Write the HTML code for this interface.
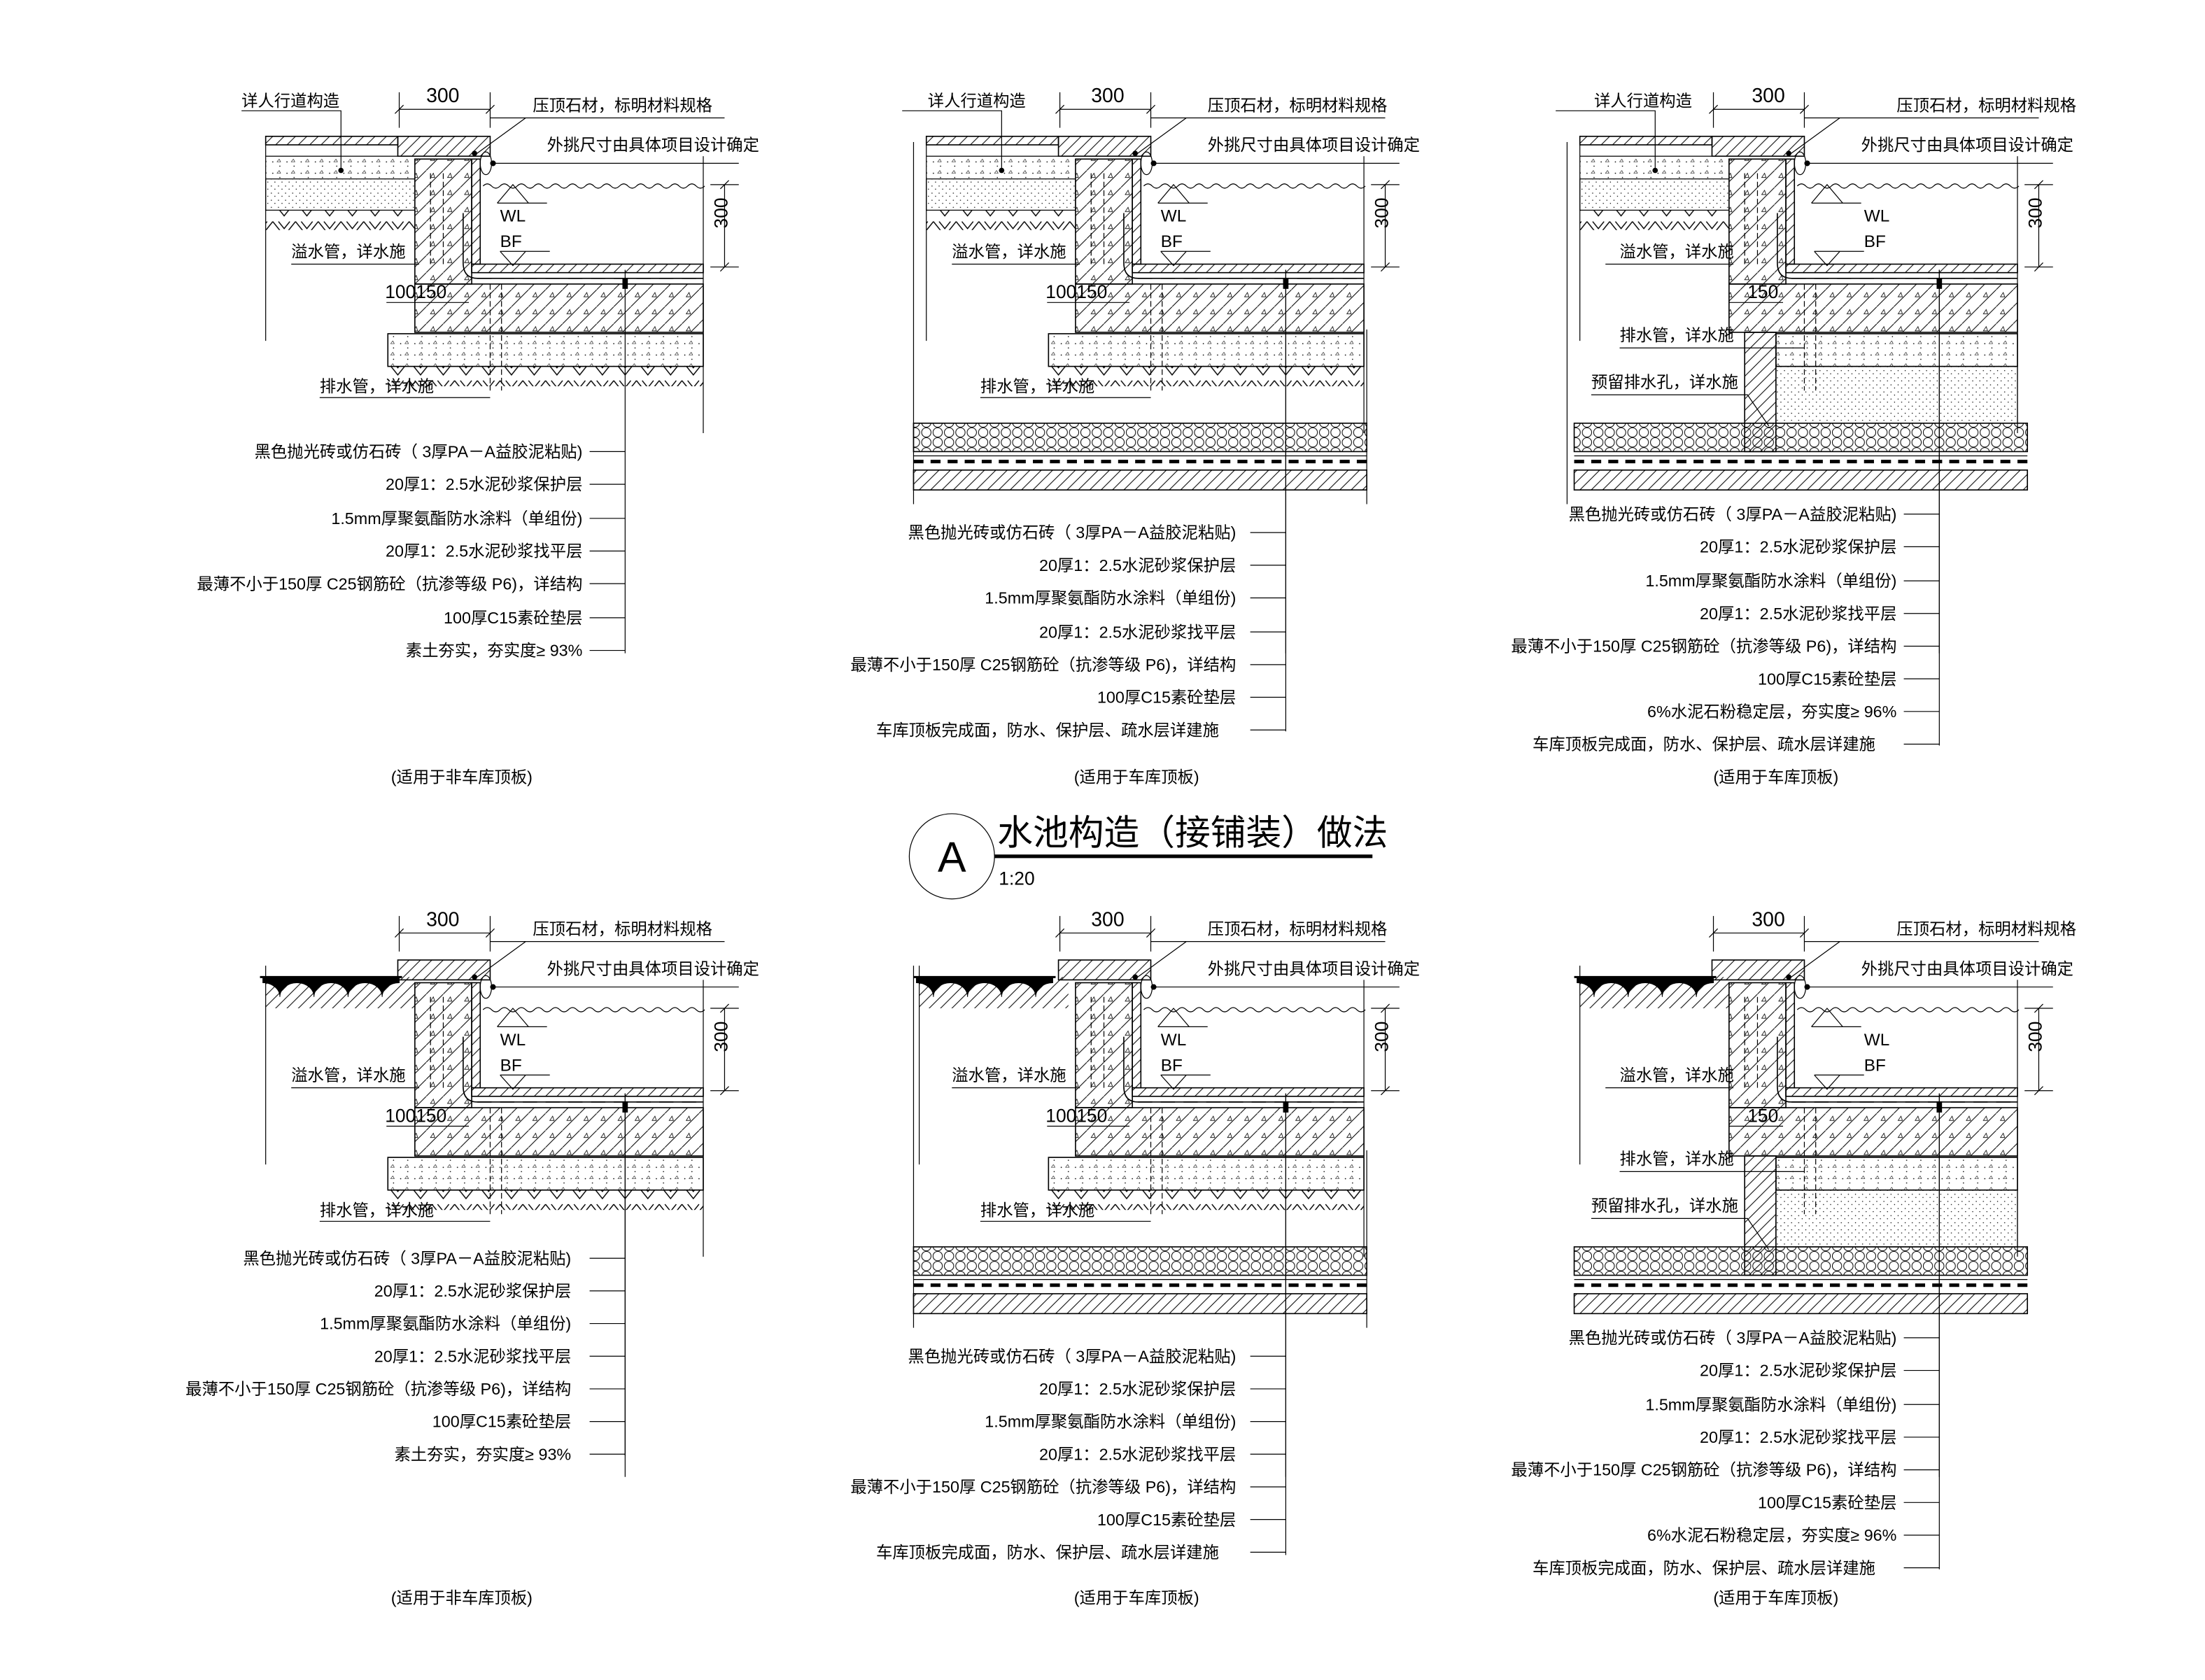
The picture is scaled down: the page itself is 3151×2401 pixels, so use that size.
<!DOCTYPE html>
<html><head><meta charset="utf-8"><style>
html,body{margin:0;padding:0;background:#fff}
svg{display:block}
text{font-family:"Liberation Sans","Noto Sans CJK SC",sans-serif;fill:#000}
</style></head><body>
<svg width="3151" height="2401" viewBox="0 0 1552 1183" preserveAspectRatio="none" xmlns="http://www.w3.org/2000/svg">
<defs>
<pattern id="h" width="8" height="8" patternUnits="userSpaceOnUse"><path d="M0,8 L8,0 M-2,2 L2,-2 M6,10 L10,6" stroke="#000" stroke-width="0.5"/></pattern>
<pattern id="hs" width="12" height="12" patternUnits="userSpaceOnUse"><path d="M0,12 L12,0" stroke="#000" stroke-width="0.5"/><path d="M3,5 l2,-3 l1,3z" fill="none" stroke="#000" stroke-width="0.4"/></pattern>
<pattern id="dt" width="10" height="8" patternUnits="userSpaceOnUse"><circle cx="2" cy="2" r="0.4"/><circle cx="7" cy="5" r="0.4"/><path d="M5,2 l1.5,-2 l1,2z" fill="none" stroke="#000" stroke-width="0.3"/></pattern>
<pattern id="sd" width="5" height="5" patternUnits="userSpaceOnUse"><circle cx="1" cy="1" r="0.35"/><circle cx="3.5" cy="3.2" r="0.35"/></pattern>
<pattern id="soil" width="16" height="14" patternUnits="userSpaceOnUse"><path d="M0,2 L8,12 L16,2 M4,2 L8,7 L12,2" stroke="#000" stroke-width="0.7" fill="none"/></pattern>
<pattern id="hex" width="8" height="7" patternUnits="userSpaceOnUse"><circle cx="4" cy="3.5" r="3.3" fill="none" stroke="#000" stroke-width="0.5"/></pattern>
<g id="core" stroke="#000" stroke-width="0.8" fill="none">
  <rect x="280" y="96" width="65" height="14" fill="url(#h)"/>
  <rect x="292" y="112" width="40" height="88" fill="url(#hs)"/>
  <rect x="332" y="112" width="6" height="74" fill="url(#h)"/>
  <rect x="332" y="186" width="163" height="6" fill="url(#h)"/>
  <path d="M326,150 V185 Q326,196 336,196 H495"/>
  <path d="M336,196 H495" stroke-dasharray="10,6"/>
  <rect x="292" y="200" width="203" height="34" fill="url(#hs)"/>
  <path d="M340,131 q3,-3 6,0 t6,0 t6,0 t6,0 t6,0 t6,0 t6,0 t6,0 t6,0 t6,0 t6,0 t6,0 t6,0 t6,0 t6,0 t6,0 t6,0 t6,0 t6,0 t6,0 t6,0 t6,0 t6,0 t6,0 t6,0 t6,0" stroke-width="0.6"/>
  <path d="M495,110 V305" stroke-width="0.6"/>
  <path d="M350,143 H385 M350,143 L361,130 L372,143" stroke-width="0.6"/>
  <path d="M352,177 H387 M352,177 L361,187 L370,177" stroke-width="0.6"/>
  <path d="M303,122 V186 M312,122 V186" stroke-dasharray="4,2" stroke-width="0.6"/>
  <ellipse cx="342" cy="115" rx="4" ry="8" stroke-width="0.6"/>
  <path d="M347,115 H520" stroke-width="0.6"/>
  <circle cx="347" cy="115" r="1.6" fill="#000"/>
  <path d="M345,200 V275 M353,200 V275" stroke-dasharray="4,2" stroke-width="0.6"/>
  <path d="M281,77 H345 M281,65 V90 M345,65 V90 M278,80 l6,-6 M342,80 l6,-6" stroke-width="0.6"/>
  <path d="M510,130 V188 M500,130 H520 M500,188 H520 M507,133 l6,-6 M507,191 l6,-6" stroke-width="0.6"/>
  <path d="M345,83 H510 M333,110 L370,83" stroke-width="0.6"/>
  <circle cx="334" cy="108" r="1.5" fill="#000"/>
  <path d="M440,190 V460" stroke-width="0.6"/>
  <rect x="438.5" y="196" width="3" height="7" fill="#000"/>
</g>
<g id="bot1" stroke="#000" stroke-width="0.8" fill="none">
  <rect x="273" y="235" width="222" height="23" fill="url(#dt)"/>
  <rect x="273" y="258" width="222" height="14" fill="url(#soil)" stroke="none"/>
</g>
<g id="walk" stroke="#000" stroke-width="0.8" fill="none">
  <rect x="187" y="96" width="93" height="6" fill="url(#h)"/>
  <path d="M187,110 H292 M187,102 V240" stroke-width="0.6"/>
  <rect x="187" y="110" width="105" height="16" fill="url(#dt)" stroke="none"/>
  <rect x="187" y="126" width="105" height="22" fill="url(#sd)" stroke-width="0.6"/>
  <rect x="187" y="148" width="105" height="14" fill="url(#soil)" stroke="none"/>
  <path d="M170,78 H240 V120" stroke-width="0.6"/><circle cx="240" cy="120" r="1.5" fill="#000"/>
</g>
<g id="plant" stroke="#000" stroke-width="0.8" fill="none">
  <rect x="187" y="688" width="105" height="22" fill="url(#h)" stroke="none"/>
  <path d="M183,688 H283" stroke-width="1.5"/>
  <path d="M185,688 H281 V692 A12,10 0 0 0 269,702 A12,10 0 0 0 245,702 A12,10 0 0 0 221,702 A12,10 0 0 0 197,702 A12,10 0 0 0 185,692 Z" fill="#000" stroke-width="0.5"/>
  <path d="M187,680 V820" stroke-width="0.6"/>
</g>
<g id="garage" stroke="#000" stroke-width="0.8" fill="none">
  <rect x="643" y="298" width="319" height="20" fill="url(#hex)"/>
  <path d="M643,325 H962" stroke="#000" stroke-width="2.5" stroke-dasharray="7,5"/>
  <path d="M643,321 H962" stroke-width="0.6"/>
  <rect x="643" y="331" width="319" height="14" fill="url(#h)"/>
</g>
</defs>

<use href="#walk"/><use href="#core"/><use href="#bot1"/>
<g transform="translate(465,0)"><use href="#walk"/><use href="#core"/><use href="#bot1"/>
  <path d="M178,100 V355 M497,232 V355" stroke="#000" stroke-width="0.6" fill="none"/></g>
<use href="#garage"/>
<g transform="translate(925,0)"><use href="#walk"/><use href="#core"/>
  <rect x="325" y="235" width="170" height="23" fill="url(#dt)" stroke="#000" stroke-width="0.8"/>
  <rect x="325" y="258" width="170" height="40" fill="url(#sd)" stroke="#000" stroke-width="0.6"/>
  <rect x="303" y="234" width="22" height="84" fill="url(#h)" stroke="#000" stroke-width="0.8"/>
  <path d="M178,100 V355" stroke="#000" stroke-width="0.6"/></g>
<use href="#garage" transform="translate(465,0)"/>

<g transform="translate(0,580)"><use href="#core"/><use href="#bot1"/></g>
<use href="#plant"/>
<g transform="translate(465,580)"><use href="#core"/><use href="#bot1"/></g>
<use href="#plant" transform="translate(460,0)"/>
<path d="M643,680 V935 M962,810 V935" stroke="#000" stroke-width="0.6"/>
<use href="#garage" transform="translate(0,580)"/>
<g transform="translate(925,580)"><use href="#core"/>
  <rect x="325" y="235" width="170" height="23" fill="url(#dt)" stroke="#000" stroke-width="0.8"/>
  <rect x="325" y="258" width="170" height="40" fill="url(#sd)" stroke="#000" stroke-width="0.6"/>
  <rect x="303" y="234" width="22" height="84" fill="url(#h)" stroke="#000" stroke-width="0.8"/></g>
<use href="#plant" transform="translate(925,0)"/>
<use href="#garage" transform="translate(465,580)"/>

<g stroke="#000" stroke-width="0.6" fill="none">
<path d="M905,190 V515 M1365,190 V525 M440,770 V1025 M905,770 V1095 M1365,770 V1105"/>
<path d="M415,318 H440 M415,341 H440 M415,365 H440 M415,388 H440 M415,411 H440 M415,435 H440 M415,458 H440"/>
<path d="M880,375 H905 M880,398 H905 M880,421 H905 M880,445 H905 M880,468 H905 M880,491 H905 M880,514 H905"/>
<path d="M1340,362 H1365 M1340,385 H1365 M1340,409 H1365 M1340,432 H1365 M1340,455 H1365 M1340,478 H1365 M1340,501 H1365 M1340,524 H1365"/>
<path d="M415,886 H440 M415,909 H440 M415,932 H440 M415,955 H440 M415,978 H440 M415,1001 H440 M415,1024 H440"/>
<path d="M880,955 H905 M880,978 H905 M880,1001 H905 M880,1024 H905 M880,1047 H905 M880,1070 H905 M880,1093 H905"/>
<path d="M1340,942 H1365 M1340,965 H1365 M1340,989 H1365 M1340,1012 H1365 M1340,1035 H1365 M1340,1058 H1365 M1340,1081 H1365 M1340,1104 H1365"/>
<path d="M205,186 H295 M225,280 H345 M670,186 H760 M690,280 H810 M1130,186 H1220 M1140,245 H1270 M1120,278 H1230 L1245,300"/>
<path d="M205,766 H295 M225,860 H345 M670,766 H760 M690,860 H810 M1130,766 H1220 M1140,825 H1270 M1120,858 H1230 L1245,880"/>
<path d="M272,213 H330 M737,213 H795 M1217,213 H1255 M272,793 H330 M737,793 H795 M1217,793 H1255"/>
<circle cx="670" cy="603" r="30"/>
</g>
<line x1="700" y1="603" x2="966" y2="603" stroke="#000" stroke-width="2.5"/>

<g font-size="11.5">
<text x="170" y="75">详人行道构造</text>
<text x="300" y="72" font-size="14">300</text>
<text x="375" y="78">压顶石材，标明材料规格</text>
<text x="385" y="106">外挑尺寸由具体项目设计确定</text>
<text x="352" y="156" font-size="12">WL</text><text x="352" y="174" font-size="12">BF</text>
<text x="205" y="181">溢水管，详水施</text>
<text x="225" y="276">排水管，详水施</text>
<text x="271" y="210" font-size="13">100150</text>
<text x="512" y="150" font-size="13" transform="rotate(-90 512 150)" text-anchor="middle">300</text>
<g text-anchor="end">
<text x="410" y="322">黑色抛光砖或仿石砖（ 3厚PA－A益胶泥粘贴)</text>
<text x="410" y="345">20厚1：2.5水泥砂浆保护层</text>
<text x="410" y="369">1.5mm厚聚氨酯防水涂料（单组份)</text>
<text x="410" y="392">20厚1：2.5水泥砂浆找平层</text>
<text x="410" y="415">最薄不小于150厚 C25钢筋砼（抗渗等级 P6)，详结构</text>
<text x="410" y="439">100厚C15素砼垫层</text>
<text x="410" y="462">素土夯实，夯实度≥ 93%</text>
</g>
<text x="325" y="551" text-anchor="middle">(适用于非车库顶板)</text>

<text x="653" y="75">详人行道构造</text>
<text x="768" y="72" font-size="14">300</text>
<text x="850" y="78">压顶石材，标明材料规格</text>
<text x="850" y="106">外挑尺寸由具体项目设计确定</text>
<text x="817" y="156" font-size="12">WL</text><text x="817" y="174" font-size="12">BF</text>
<text x="670" y="181">溢水管，详水施</text>
<text x="690" y="276">排水管，详水施</text>
<text x="736" y="210" font-size="13">100150</text>
<text x="977" y="150" font-size="13" transform="rotate(-90 977 150)" text-anchor="middle">300</text>
<g text-anchor="end">
<text x="870" y="379">黑色抛光砖或仿石砖（ 3厚PA－A益胶泥粘贴)</text>
<text x="870" y="402">20厚1：2.5水泥砂浆保护层</text>
<text x="870" y="425">1.5mm厚聚氨酯防水涂料（单组份)</text>
<text x="870" y="449">20厚1：2.5水泥砂浆找平层</text>
<text x="870" y="472">最薄不小于150厚 C25钢筋砼（抗渗等级 P6)，详结构</text>
<text x="870" y="495">100厚C15素砼垫层</text>
<text x="858" y="518">车库顶板完成面，防水、保护层、疏水层详建施</text>
</g>
<text x="800" y="551" text-anchor="middle">(适用于车库顶板)</text>

<text x="1122" y="75">详人行道构造</text>
<text x="1233" y="72" font-size="14">300</text>
<text x="1335" y="78">压顶石材，标明材料规格</text>
<text x="1310" y="106">外挑尺寸由具体项目设计确定</text>
<text x="1312" y="156" font-size="12">WL</text><text x="1312" y="174" font-size="12">BF</text>
<text x="1140" y="181">溢水管，详水施</text>
<text x="1140" y="240">排水管，详水施</text>
<text x="1120" y="273">预留排水孔，详水施</text>
<text x="1230" y="210" font-size="13">150</text>
<text x="1437" y="150" font-size="13" transform="rotate(-90 1437 150)" text-anchor="middle">300</text>
<g text-anchor="end">
<text x="1335" y="366">黑色抛光砖或仿石砖（ 3厚PA－A益胶泥粘贴)</text>
<text x="1335" y="389">20厚1：2.5水泥砂浆保护层</text>
<text x="1335" y="413">1.5mm厚聚氨酯防水涂料（单组份)</text>
<text x="1335" y="436">20厚1：2.5水泥砂浆找平层</text>
<text x="1335" y="459">最薄不小于150厚 C25钢筋砼（抗渗等级 P6)，详结构</text>
<text x="1335" y="482">100厚C15素砼垫层</text>
<text x="1335" y="505">6%水泥石粉稳定层，夯实度≥ 96%</text>
<text x="1320" y="528">车库顶板完成面，防水、保护层、疏水层详建施</text>
</g>
<text x="1250" y="551" text-anchor="middle">(适用于车库顶板)</text>

<text x="670" y="614" font-size="30" text-anchor="middle">A</text>
<text x="702" y="595" font-size="25">水池构造（接铺装）做法</text>
<text x="703" y="623" font-size="13">1:20</text>

<text x="300" y="652" font-size="14">300</text>
<text x="375" y="658">压顶石材，标明材料规格</text>
<text x="385" y="686">外挑尺寸由具体项目设计确定</text>
<text x="352" y="736" font-size="12">WL</text><text x="352" y="754" font-size="12">BF</text>
<text x="205" y="761">溢水管，详水施</text>
<text x="225" y="856">排水管，详水施</text>
<text x="271" y="790" font-size="13">100150</text>
<text x="512" y="730" font-size="13" transform="rotate(-90 512 730)" text-anchor="middle">300</text>
<g text-anchor="end">
<text x="402" y="890">黑色抛光砖或仿石砖（ 3厚PA－A益胶泥粘贴)</text>
<text x="402" y="913">20厚1：2.5水泥砂浆保护层</text>
<text x="402" y="936">1.5mm厚聚氨酯防水涂料（单组份)</text>
<text x="402" y="959">20厚1：2.5水泥砂浆找平层</text>
<text x="402" y="982">最薄不小于150厚 C25钢筋砼（抗渗等级 P6)，详结构</text>
<text x="402" y="1005">100厚C15素砼垫层</text>
<text x="402" y="1028">素土夯实，夯实度≥ 93%</text>
</g>
<text x="325" y="1129" text-anchor="middle">(适用于非车库顶板)</text>

<text x="768" y="652" font-size="14">300</text>
<text x="850" y="658">压顶石材，标明材料规格</text>
<text x="850" y="686">外挑尺寸由具体项目设计确定</text>
<text x="817" y="736" font-size="12">WL</text><text x="817" y="754" font-size="12">BF</text>
<text x="670" y="761">溢水管，详水施</text>
<text x="690" y="856">排水管，详水施</text>
<text x="736" y="790" font-size="13">100150</text>
<text x="977" y="730" font-size="13" transform="rotate(-90 977 730)" text-anchor="middle">300</text>
<g text-anchor="end">
<text x="870" y="959">黑色抛光砖或仿石砖（ 3厚PA－A益胶泥粘贴)</text>
<text x="870" y="982">20厚1：2.5水泥砂浆保护层</text>
<text x="870" y="1005">1.5mm厚聚氨酯防水涂料（单组份)</text>
<text x="870" y="1028">20厚1：2.5水泥砂浆找平层</text>
<text x="870" y="1051">最薄不小于150厚 C25钢筋砼（抗渗等级 P6)，详结构</text>
<text x="870" y="1074">100厚C15素砼垫层</text>
<text x="858" y="1097">车库顶板完成面，防水、保护层、疏水层详建施</text>
</g>
<text x="800" y="1129" text-anchor="middle">(适用于车库顶板)</text>

<text x="1233" y="652" font-size="14">300</text>
<text x="1335" y="658">压顶石材，标明材料规格</text>
<text x="1310" y="686">外挑尺寸由具体项目设计确定</text>
<text x="1312" y="736" font-size="12">WL</text><text x="1312" y="754" font-size="12">BF</text>
<text x="1140" y="761">溢水管，详水施</text>
<text x="1140" y="820">排水管，详水施</text>
<text x="1120" y="853">预留排水孔，详水施</text>
<text x="1230" y="790" font-size="13">150</text>
<text x="1437" y="730" font-size="13" transform="rotate(-90 1437 730)" text-anchor="middle">300</text>
<g text-anchor="end">
<text x="1335" y="946">黑色抛光砖或仿石砖（ 3厚PA－A益胶泥粘贴)</text>
<text x="1335" y="969">20厚1：2.5水泥砂浆保护层</text>
<text x="1335" y="993">1.5mm厚聚氨酯防水涂料（单组份)</text>
<text x="1335" y="1016">20厚1：2.5水泥砂浆找平层</text>
<text x="1335" y="1039">最薄不小于150厚 C25钢筋砼（抗渗等级 P6)，详结构</text>
<text x="1335" y="1062">100厚C15素砼垫层</text>
<text x="1335" y="1085">6%水泥石粉稳定层，夯实度≥ 96%</text>
<text x="1320" y="1108">车库顶板完成面，防水、保护层、疏水层详建施</text>
</g>
<text x="1250" y="1129" text-anchor="middle">(适用于车库顶板)</text>
</g>
</svg>
</body></html>
